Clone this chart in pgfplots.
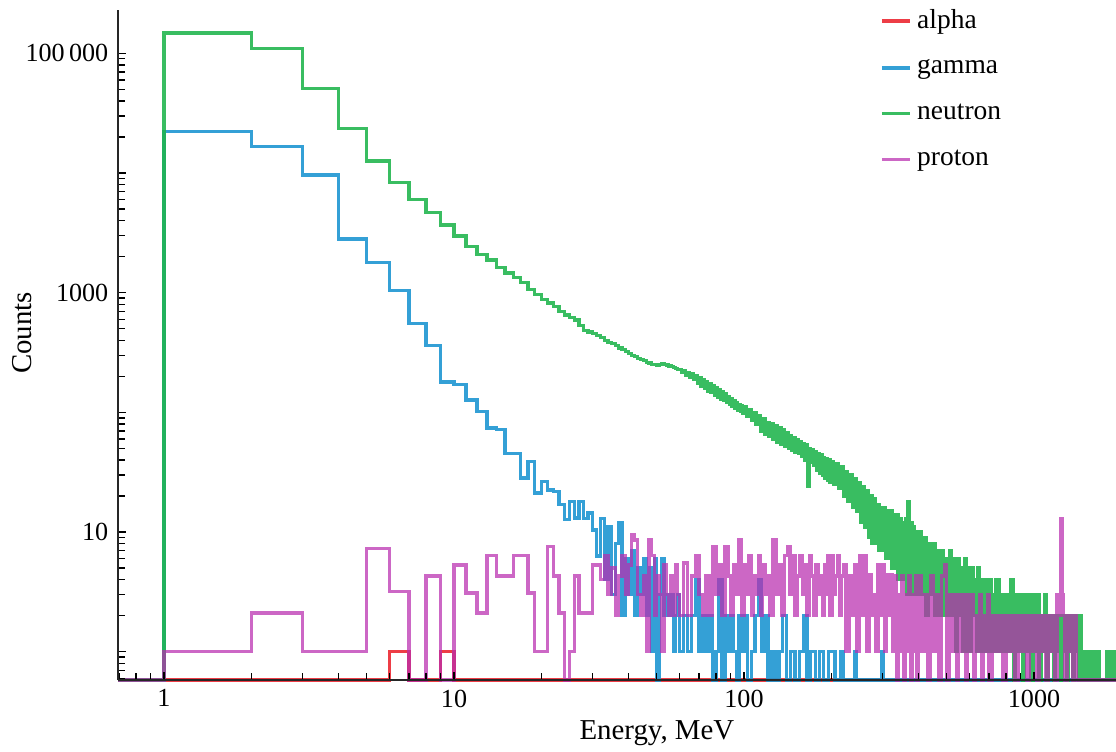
\documentclass[border=0pt]{standalone}
\usepackage{fontspec}
\setmainfont{Liberation Serif}
\usepackage{pgfplots}
\pgfplotsset{compat=1.18}
\definecolor{calpha}{RGB}{235,40,50}
\definecolor{cgamma}{RGB}{30,150,210}
\definecolor{cneutron}{RGB}{30,180,75}
\definecolor{cproton}{RGB}{185,45,175}
\begin{document}
\begin{tikzpicture}
\begin{axis}[
  name=ax,
  xmode=log, ymode=log,
  scale only axis,
  width=363.3pt, height=243.9pt,
  xmin=0.694, xmax=1918, ymin=0.58, ymax=230000,
  axis x line*=bottom, axis y line*=left,
  axis line style={line width=0.4pt, black!85},
  axis on top,
  clip=false,
  xtick={0.1,1,10,100,1000,10000},
  xticklabels={,1,10,100,1000,},
  ytick={0.1,1,10,100,1000,10000,100000},
  yticklabels={,,10,,1000,,100\,000},
  tick align=inside,
  major tick length=3pt, minor tick length=2.4pt,
  every tick/.style={black, line width=0.5pt},
  tick label style={font=\fontsize{9.5}{11}\selectfont},
  label style={font=\fontsize{10.5}{12}\selectfont},
  xlabel={Energy, MeV},
  ylabel={Counts},
  xlabel style={at={(axis description cs:0.54,-0.0791)}, anchor=center},
  ylabel style={at={(axis description cs:-0.0961,0.518)}, anchor=center},
  legend style={draw=none, fill=none, at={(axis description cs:0.755,1.018)}, anchor=north west, font=\fontsize{10}{12}\selectfont, row sep=5.6pt},
  legend cell align=left,
  legend image code/.code={\draw[#1] (0cm,0cm) -- (0.36cm,0cm);},
]
\addplot[const plot, calpha, line width=1.2pt, draw opacity=0.9] coordinates {
(0.694,0.58) (6,1) (7,0.58) (9,1) (10,0.58) (1918,0.58)};
\addlegendentry{alpha}

\addplot[const plot, cgamma, line width=1.2pt, draw opacity=0.9] coordinates {
(0.694,0.58) (1,22100) (2,16600) (3,9640) (4,2810) (5,1780) (6,1040) (7,549) (8,362) (9,179) (10,170)
(11,127) (12,102) (13,74) (14,72) (15,45) (16,45) (17,28.3) (18,38.9) (19,21.2) (20,26.5)
(21,22.5) (22,21.8) (23,16.9) (24,12.7) (25,18) (26,13.1) (27,18) (28,13) (29,14.4) (30,10.4)
(31,6.3) (32,13) (33,4) (34,11) (35,3) (36,8) (37,12) (38,2) (39,6) (40,3) (41,7) (42,2) (43,5)
(44,3) (45,6) (46,2) (47,5) (48,1) (49,6) (50,0.58) (51,3) (52,6) (53,2) (54,3) (55,2) (56,3)
(57,1) (58,2) (59,3) (60,1) (62,2) (64,1) (66,2) (68,4) (70,1) (72,2) (74,1) (76,2) (78,0.58)
(80,1) (82,4) (84,0.58) (86,2) (88,1) (90,2) (92,1) (94,0.58) (96,2) (98,1) (100,2) (103,0.58)
(106,1) (109,2) (112,4) (115,1) (118,2) (121,0.58) (124,1) (128,0.58) (132,1) (136,2) (140,0.58)
(145,1) (150,0.58) (155,1) (160,2) (165,0.58) (170,1) (176,0.58) (182,1) (188,0.58) (196,1)
(202,1) (206,0.58) (215,1) (220,0.58) (240,1) (244,0.58) (298,1) (302,0.58) (1918,0.58)};
\addlegendentry{gamma}

\addplot[const plot, cneutron, line width=1.2pt, draw opacity=0.88] coordinates {
(0.694,0.58) (1,148000) (2,110000) (3,51000) (4,23600) (5,12600) (6,8300) (7,6040) (8,4670) (9,3680)
(10,2980) (11,2430) (12,2070) (13,1880) (14,1620) (15,1460) (16,1330) (17,1220) (18,1060) (19,960)
(20,880) (21,820) (22,770) (23,700) (24,650) (25,620) (26,590) (27,530) (28,480) (29,470) (30,455)
(31,440) (32,420) (33,400) (34,385) (35,375) (36,360) (37,345) (38,335) (39,322) (40,310) (41,300)
(42,292) (43,283) (44,275) (45,270) (46,262) (47,258) (48,252) (49,250) (50,247) (51,250) (52,255)
(53,252) (54,248) (55,244) (56,240) (57,236) (58,232) (59,228)
(60,228) (61,214) (62,224) (63,203) (64,216) (65,196) (66,210) (67,190) (68,203) (69,176) (70,196)
(71,166) (72,189) (73,160) (74,181) (75,150) (76,174) (77,147) (78,166) (79,139) (80,160) (81,133)
(82,154) (83,128) (84,150) (85,125) (86,143) (87,121) (88,135) (89,116) (90,130) (91,112) (92,126)
(93,108) (94,121) (95,104) (96,117) (97,101) (98,113) (99,98)
(100,112) (102,92) (104,106) (106,85) (108,99) (110,80) (112,94) (114,70) (116,88) (118,66) (120,82)
(122,63) (124,80) (126,60) (128,78) (130,56) (132,75) (134,54) (136,72) (138,52) (140,68) (142,50)
(144,64) (146,48) (148,62) (150,46) (152,59) (154,45) (156,57) (158,43) (160,55) (162,40) (164,54)
(166,24) (168,50) (170,38) (172,49) (174,36) (176,47) (178,33) (180,45) (182,31) (184,44) (186,30)
(188,42) (190,28) (192,41) (194,27) (196,40) (198,26)
(200,39) (204,25) (208,37) (212,23) (216,35) (220,20) (224,32) (228,18) (232,30) (236,16) (240,28)
(244,15) (248,26) (252,12) (256,24) (260,11) (264,22) (268,9) (272,20) (276,8) (280,19) (284,8)
(288,17) (292,7) (296,16) (300,7) (304,16) (308,6) (312,15) (316,6) (320,15) (324,5) (328,14)
(332,5) (336,14) (340,4) (344,13) (348,4) (352,12) (356,4) (360,13) (364,3) (368,18) (372,4)
(376,12) (380,3) (384,11) (388,3) (392,10) (396,3)
(400,10) (408,3) (416,9) (424,2) (432,8) (440,3) (448,8) (456,2) (464,7) (472,2) (480,7) (488,2)
(496,6) (504,2) (512,7) (520,2) (528,6) (536,1) (544,6) (552,2) (560,5) (568,1) (576,6) (584,1)
(592,5) (600,1) (608,5) (616,2) (624,4) (632,1) (640,5) (648,1) (656,4) (664,1) (672,4) (680,1)
(688,4) (696,1) (704,4) (712,1) (720,3) (728,1) (736,4) (744,1) (752,4) (760,1) (768,3) (776,1)
(784,3) (792,1)
(800,3) (816,1) (832,4) (848,0.58) (864,3) (880,1) (896,3) (912,0.58) (928,3) (944,1) (960,3)
(976,0.58) (992,3) (1008,1) (1024,3) (1040,0.58) (1056,2) (1072,1) (1088,3) (1104,0.58) (1120,2)
(1136,1) (1152,2) (1168,0.58) (1184,2) (1200,1) (1216,2) (1232,0.58) (1248,2) (1264,1) (1280,2)
(1296,0.58) (1312,2) (1328,1) (1344,2) (1360,0.58) (1376,2) (1392,1) (1408,2) (1424,0.58) (1440,2)
(1456,0.58) (1472,1) (1488,0.58) (1504,1) (1520,0.58) (1536,1) (1552,0.58) (1568,1) (1584,0.58)
(1600,1) (1616,0.58) (1632,1) (1648,0.58) (1664,1) (1680,0.58) (1780,1) (1800,0.58) (1820,1)
(1840,0.58) (1860,1) (1880,0.58) (1900,1) (1918,1)};
\addlegendentry{neutron}

\addplot[const plot, cproton, line width=1.2pt, draw opacity=0.72] coordinates {
(0.694,0.58) (1,1) (2,2.1) (3,1) (5,7.3) (6,3.2) (7,0.58) (8,4.3) (9,0.58) (10,5.3) (11,3.1)
(12,2.1) (13,6.4) (14,4.3) (16,6.4) (18,3.1) (19,1) (21,7.6) (22,4.3) (23,2.1) (24,0.58) (25,1)
(26,4.3) (27,2.1) (30,5.3) (32,4) (33,6.3) (34,3) (35,5) (36,2) (37,4.3) (38,6.3) (39,3) (40,5.3)
(41,9.5) (42,8.6) (43,3) (44,2) (45,4.3) (46,1) (47,8.6) (48,6.4) (49,2) (50,4.3) (51,3) (52,1)
(53,5.3) (54,3) (55,2) (56,4.3) (57,2) (58,5.3) (59,3) (60,2)
(62,5.5) (64,2) (66,4.3) (68,6.4) (70,3) (72,2) (74,4.3) (76,2) (78,7.5) (80,3) (82,5.3) (84,2)
(86,7.5) (88,4.3) (90,2) (92,5.3) (94,3) (96,8.6) (98,2) (100,5.3) (102,3) (104,6.4) (106,2)
(108,4.3) (110,3) (112,6.4) (114,2) (116,5.3) (118,3) (120,4.3) (123,2) (126,8.6) (129,3)
(132,5.3) (135,2) (138,6.4) (141,7.5) (144,3) (147,6.4) (150,2) (153,4.3) (156,6.4) (159,3)
(162,5.3) (165,2) (168,6.4) (171,4.3) (174,2) (177,5.3) (180,3) (183,4.3) (186,2) (189,5.3)
(192,3) (195,6.4) (198,2) (201,6.4) (204,3) (207,4.3) (210,6.4) (213,2) (216,4.3)
(220,5.3) (225,1) (230,4.3) (235,2) (240,5.3) (245,1) (250,6.4) (255,2) (260,6.4) (265,1)
(270,4.4) (275,2) (280,3) (285,1) (290,5.3) (295,2) (300,5.3) (305,1) (310,4.4) (315,2) (320,4.4)
(325,1) (330,4.3) (335,0.58) (340,3) (345,1) (350,4.3) (355,0.58) (360,3) (365,1) (370,4.3)
(375,0.58) (380,3) (385,1) (390,4.3) (395,0.58)
(400,4.3) (410,1) (420,3) (430,0.58) (440,4.3) (450,1) (460,3) (470,0.58) (480,4.3) (490,5.3)
(500,0.58) (510,3) (520,1) (530,3) (540,0.58) (550,3) (560,1) (570,3) (580,0.58) (590,3) (600,1)
(610,3) (620,0.58) (630,2) (640,1) (650,3) (660,0.58) (670,2) (680,1) (690,3) (700,0.58)
(720,2) (740,1) (760,2) (780,0.58) (800,2) (820,1) (840,2) (860,0.58) (880,2) (900,1) (920,2)
(940,0.58) (960,2) (980,1) (1000,2) (1020,0.58) (1040,2) (1060,1) (1080,2) (1100,0.58) (1120,2)
(1140,1) (1160,2) (1180,0.58) (1200,3) (1220,2) (1232,13) (1252,3) (1262,2) (1280,0.58) (1300,2)
(1320,1) (1340,2) (1360,0.58) (1380,2) (1400,0.58) (1918,0.58)};
\addlegendentry{proton}
\end{axis}
\pgfresetboundingbox
\path[use as bounding box] ([xshift=-42.95pt,yshift=-26.2pt]ax.south west) rectangle ([yshift=3.64pt]ax.north east);
\end{tikzpicture}
\end{document}
